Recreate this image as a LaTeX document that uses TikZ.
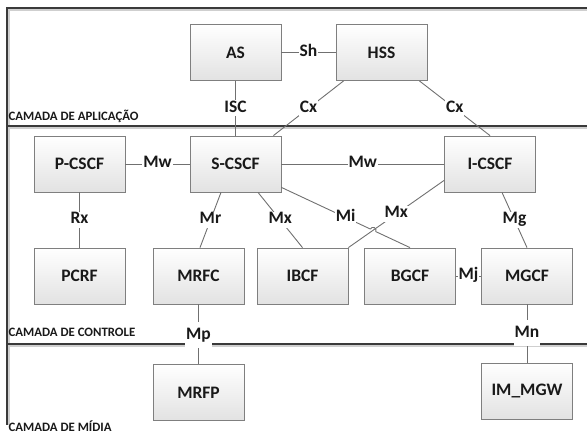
\documentclass[tikz,border=0pt]{standalone}
\usepackage{fontspec}
\setmainfont{Carlito}
\usetikzlibrary{calc}
\definecolor{boxline}{HTML}{7F7F7F}
\definecolor{boxbot}{HTML}{E2E2E2}
\definecolor{connline}{HTML}{707070}
\definecolor{frameline}{HTML}{3A3A3A}
\definecolor{frameshade}{HTML}{CFCFCF}
\begin{document}
\begin{tikzpicture}[x=1pt,y=-1pt,
  box/.style={draw=boxline, line width=0.8pt, top color=white, bottom color=boxbot,
    minimum width=91pt, minimum height=56pt, inner sep=0pt,
    font=\fontsize{17.5}{20}\selectfont\bfseries, text=black!90},
  conn/.style={draw=connline, line width=0.9pt},
  lbl/.style={fill=white, inner xsep=1pt, inner ysep=0pt, text height=12pt, text depth=4pt,
    font=\fontsize{17.5}{20}\selectfont\bfseries, text=black!90},
  layer/.style={anchor=base west, inner sep=0pt,
    font=\fontsize{12.8}{14}\selectfont\bfseries, text=black!90},
  frame/.style={draw=frameline, line width=2.8pt},
  shade/.style={draw=frameshade, line width=1.6pt}]
\useasboundingbox (0,0) rectangle (587,435);

% frame and layer dividers
\draw[shade] (9,425) -- (9,10) -- (587,10);
\draw[shade] (9,128) -- (587,128);
\draw[shade] (9,346) -- (587,346);
\draw[frame] (7,425) -- (7,8) -- (587,8);
\draw[frame] (7,126) -- (587,126);
\draw[frame] (7,344) -- (587,344);

% layer labels
\node[layer] (LA) at (8.5,120.5) {CAMADA DE APLICAÇÃO};
\node[layer] (LC) at (8.5,336.5) {CAMADA DE CONTROLE};
\node[layer] (LM) at (8.5,431.5) {CAMADA DE MÍDIA};

% boxes
\node[box] (AS) at (235.5,52.5) {AS};
\node[box] (HSS) at (381.5,52.5) {HSS};
\node[box] (P) at (79.5,164) {P-CSCF};
\node[box] (S) at (235.5,164) {S-CSCF};
\node[box] (I) at (490,164) {I-CSCF};
\node[box] (PCRF) at (79.5,276) {PCRF};
\node[box] (MRFC) at (198.5,276) {MRFC};
\node[box] (IBCF) at (302.5,276) {IBCF};
\node[box] (BGCF) at (410,276) {BGCF};
\node[box] (MGCF) at (527,276) {MGCF};
\node[box] (MRFP) at (198.5,392.5) {MRFP};
\node[box] (IMMGW) at (527,391) {IM\_MGW};

% connectors
\draw[conn] (AS.east) -- node[lbl]{Sh} (HSS.west);
\draw[conn] (AS.south) -- node[lbl]{ISC} (S.north);
\draw[conn] ($(HSS.south west)+(8,0)$) -- node[lbl]{Cx} ($(S.north east)+(-8,0)$);
\draw[conn] ($(HSS.south east)+(-8,0)$) -- node[lbl]{Cx} (I.north);
\draw[conn] (P.east) -- node[lbl]{Mw} (S.west);
\draw[conn] (S.east) -- node[lbl]{Mw} (I.west);
\draw[conn] (P.south) -- node[lbl]{Rx} (PCRF.north);
\draw[conn] ($(S.south)+(-14.5,0)$) -- node[lbl]{Mr} ($(MRFC.north)+(1.5,0)$);
\draw[conn] ($(S.south)+(22.5,0)$) -- node[lbl]{Mx} (IBCF.north);

\coordinate (MiA) at ($(S.south east)+(0,-5)$);
\coordinate (MxA) at ($(I.south west)+(0,-12)$);
\coordinate (X) at (intersection of MiA--BGCF.north and MxA--IBCF.north east);
\draw[conn] (MxA) -- node[lbl]{Mx} (IBCF.north east);
\draw[conn] (MiA) -- ($(X)!3pt!(MiA)$) arc[start angle=154.7, end angle=-25.3, radius=3pt] -- (BGCF.north);
\path (MiA) -- node[lbl]{Mi} (BGCF.north);

\draw[conn] ($(I.south)+(12,0)$) -- node[lbl]{Mg} (MGCF.north);
\draw[conn] (BGCF.east) -- node[lbl]{Mj} (MGCF.west);
\draw[conn] (MRFC.south) -- node[lbl, pos=0.52, inner ysep=5pt]{Mp} (MRFP.north);
\draw[conn] (MGCF.south) -- node[lbl, pos=0.5, inner ysep=5pt]{Mn} (IMMGW.north);
\end{tikzpicture}
\end{document}
